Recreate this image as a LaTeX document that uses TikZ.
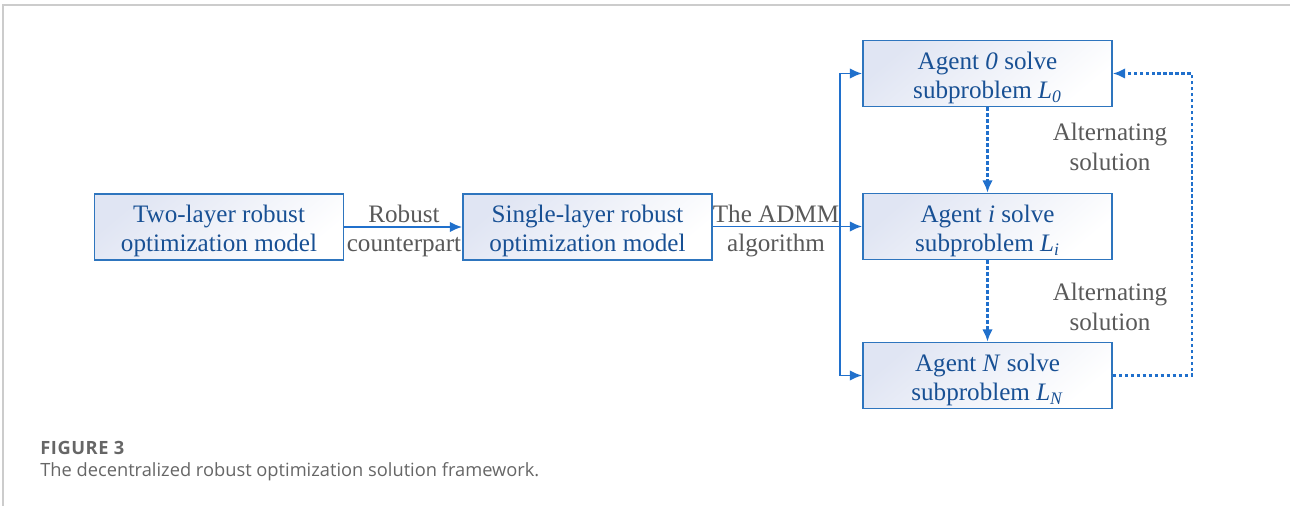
\documentclass[tikz,border=0pt]{standalone}
\usepackage{fontspec}
\setmainfont{Liberation Serif}
\newfontfamily\capfont{Open Sans}
\usetikzlibrary{arrows.meta,positioning,calc}

\definecolor{boxline}{RGB}{46,117,190}
\definecolor{arrowblue}{RGB}{32,112,204}
\definecolor{boxtext}{RGB}{24,80,148}
\definecolor{labelgray}{RGB}{89,89,89}
\definecolor{capgray}{RGB}{102,102,102}
\definecolor{boxshade}{RGB}{224,229,243}
\definecolor{framegray}{RGB}{204,204,204}

% lifts the first line so the two lines sit a little lower in the box
\newcommand{\lift}{\rule{0pt}{14.6pt}}

\begin{document}
\begin{tikzpicture}[x=0.02cm, y=-0.02cm,
    stagebox/.style={rectangle, draw=boxline, line width=1pt, top color=boxshade, bottom color=white, shading angle=40,
        minimum width=4.98cm, minimum height=1.32cm, align=center, text=boxtext,
        font=\fontsize{14.3}{16.6}\selectfont, inner sep=0pt},
    steplabel/.style={align=center, text=labelgray, font=\fontsize{14.3}{17}\selectfont, inner sep=0pt},
    arrow/.style={-{Latex[length=7pt,width=6pt]}, draw=arrowblue, line width=1.1pt},
    dotarrow/.style={-{Latex[length=7pt,width=6pt]}, draw=arrowblue, line width=1.25pt, dash pattern=on 2pt off 1.4pt}
]
    \useasboundingbox (0,0) rectangle (1290,506);
    % frame
    \draw[framegray, line width=0.8pt] (1290,5) -- (3,5) -- (3,506);

    % Models
    \node[stagebox] (twolayer) at (219,227) {\lift Two-layer robust\\optimization model};
    \node[stagebox] (onelayer) at (587.5,227) {\lift Single-layer robust\\optimization model};

    % Agents
    \node[stagebox] (agent0) at (987.5,73.5) {\lift Agent \textit{0} solve\\subproblem \textit{L}\textsubscript{\textit{0}}};
    \node[stagebox] (agenti) at (987.5,226.5) {\lift Agent \textit{i} solve\\subproblem \textit{L}\textsubscript{\textit{i}}};
    \node[stagebox] (agentN) at (987.5,375.5) {\lift Agent \textit{N} solve\\subproblem \textit{L}\textsubscript{\textit{N}}};

    \coordinate (split) at (840,226.5);
    \coordinate (loop) at (1192,226.5);

    \draw[arrow] (twolayer.east) -- (onelayer.west);
    \draw[arrow] (onelayer.east |- split) -- (agenti.west);
    \draw[arrow] (split) |- (agent0.west);
    \draw[arrow] (split) |- (agentN.west);

    \draw[dotarrow] (agent0.south) -- (agenti.north);
    \draw[dotarrow] (agenti.south) -- (agentN.north);
    \draw[dotarrow] (agentN.east) -| (loop) |- (agent0.east);

    % Labels
    \node[steplabel] (robust) at (404,231) {Robust\\counterpart};
    \node[steplabel] (admm) at (776,231) {The ADMM\\algorithm};
    \node[steplabel] (alt1) at (1110,147) {Alternating\\solution};
    \node[steplabel] (alt2) at (1110,307) {Alternating\\solution};

    % Caption
    \node[anchor=west, inner sep=0pt, text=capgray, font=\capfont\bfseries\fontsize{10.4}{12}\selectfont\addfontfeature{LetterSpace=3}] (fignum) at (40,448) {FIGURE 3};
    \node[anchor=west, inner sep=0pt, text=capgray, font=\capfont\fontsize{10.4}{12}\selectfont] (figcap) at (40,472) {The decentralized robust optimization solution framework.};
\end{tikzpicture}
\end{document}
